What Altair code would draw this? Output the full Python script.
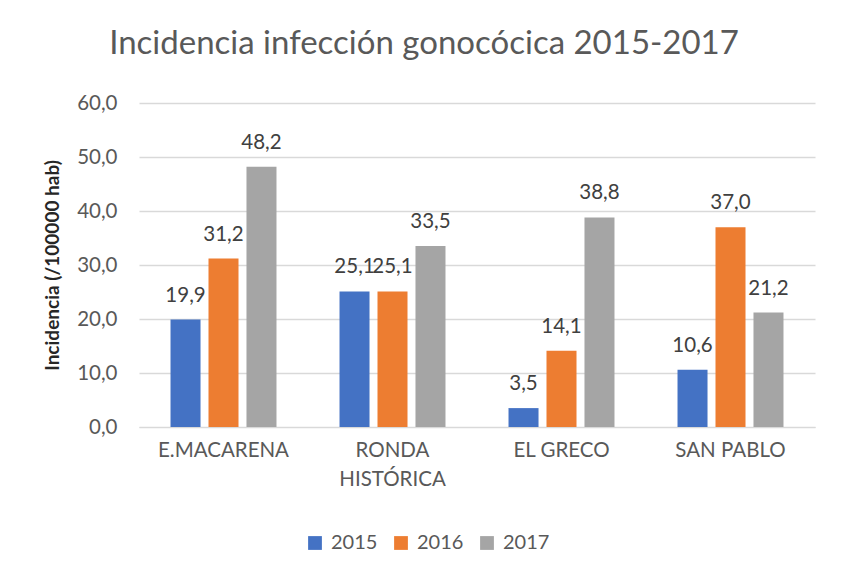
import altair as alt
import pandas as pd

categories = ["E.MACARENA", "RONDA HISTÓRICA", "EL GRECO", "SAN PABLO"]
years = ["2015", "2016", "2017"]
v2015 = [19.9, 25.1, 3.5, 10.6]
v2016 = [31.2, 25.1, 14.1, 37.0]
v2017 = [48.2, 33.5, 38.8, 21.2]
colors = ["#4472C4", "#ED7D31", "#A5A5A5"]

rows = []
for yr, vals in zip(years, [v2015, v2016, v2017]):
    for c, v in zip(categories, vals):
        rows.append({"zona": c, "anio": yr, "valor": v})
df = pd.DataFrame(rows)

FONT = "Lato"
GREY = "#595959"

base = alt.Chart(df).encode(
    x=alt.X("zona:N", sort=categories,
            scale=alt.Scale(paddingInner=0.373, paddingOuter=0.1865),
            axis=alt.Axis(title=None, labelAngle=0, labelFont=FONT, labelFontSize=20.5,
                          labelColor=GREY, ticks=False, domainColor="#D9D9D9",
                          labelPadding=13, labelLineHeight=29,
                          labelExpr="datum.label == 'RONDA HISTÓRICA' ? ['RONDA', 'HISTÓRICA'] : datum.label")),
    xOffset=alt.XOffset("anio:N", sort=years,
                        scale=alt.Scale(paddingInner=0.21, paddingOuter=0)),
)

bars = base.mark_bar().encode(
    y=alt.Y("valor:Q", scale=alt.Scale(domain=[0, 60]),
            axis=alt.Axis(title="Incidencia (/100000 hab)", values=[0, 10, 20, 30, 40, 50, 60],
                          labelExpr="replace(format(datum.value, '.1f'), '.', ',')",
                          labelFont=FONT, labelFontSize=20.5, labelColor=GREY, labelPadding=22,
                          ticks=False, domain=False, gridColor="#D9D9D9", gridWidth=1.3,
                          titleFont=FONT, titleFontSize=19, titleFontWeight="bold",
                          titleColor="#262626", titlePadding=14)),
    color=alt.Color("anio:N", sort=years, scale=alt.Scale(domain=years, range=colors),
                    legend=alt.Legend(title=None, orient="none", direction="horizontal",
                                      legendX=166, legendY=430, symbolType="square",
                                      symbolSize=190, symbolStrokeWidth=0, labelFont=FONT,
                                      labelFontSize=20, labelColor=GREY, columnPadding=13,
                                      labelOffset=6)),
)

labels = base.mark_text(dy=-14, baseline="bottom", font=FONT, fontSize=20.5, color="#404040").encode(
    y=alt.Y("valor:Q"),
    text=alt.Text("lbl:N"),
).transform_calculate(lbl="replace(format(datum.valor, '.1f'), '.', ',')")

chart = (bars + labels).properties(
    width=676, height=324,
    title=alt.Title("Incidencia infección gonocócica 2015-2017", font=FONT, fontSize=33,
                    fontWeight="normal", color=GREY, anchor="middle", dx=-53, offset=32),
    autosize=alt.AutoSizeParams(type="none"),
    padding={"left": 131, "top": 95, "right": 22, "bottom": 140},
).configure_view(stroke=None)

chart.save("out.html", embed_options={"renderer": "svg", "actions": False})
